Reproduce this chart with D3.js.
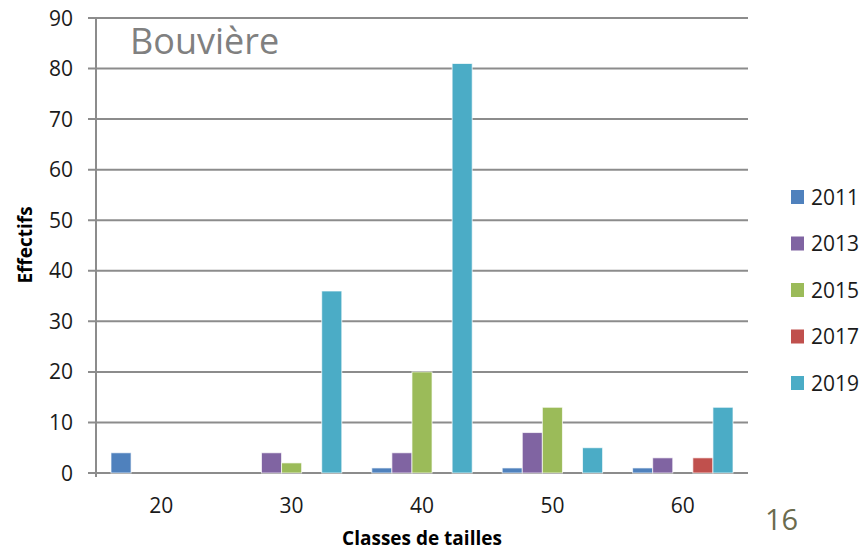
<!DOCTYPE html>
<html>
<head>
<meta charset="utf-8">
<script src="https://cdn.jsdelivr.net/npm/d3@7"></script>
<style>
  body { margin: 0; background: #fff; }
  text { font-family: "Open Sans", "Liberation Sans", sans-serif; }
</style>
</head>
<body>
<svg width="865" height="552"></svg>
<script>
// chart data
const categories = ['20', '30', '40', '50', '60'];
const years = ['2011', '2013', '2015', '2017', '2019'];
const colors = ['#4F81BD', '#8064A2', '#9BBB59', '#C0504D', '#4BACC6'];
const v2011 = [4, 0, 1, 1, 1];
const v2013 = [0, 4, 4, 8, 3];
const v2015 = [0, 2, 20, 13, 0];
const v2017 = [0, 0, 0, 0, 3];
const v2019 = [0, 36, 81, 5, 13];
const yTicks = [0, 10, 20, 30, 40, 50, 60, 70, 80, 90];

const series = [v2011, v2013, v2015, v2017, v2019];

const svg = d3.select('svg');
const plotLeft = 96, plotRight = 748, plotTop = 18, plotBottom = 473;

const x0 = d3.scaleBand().domain(categories).range([plotLeft, plotRight]).paddingInner(0.23).paddingOuter(0.115);
const x1 = d3.scaleBand().domain(years).range([0, x0.bandwidth()]);
const y = d3.scaleLinear().domain([0, 90]).range([plotBottom, plotTop]);

// gridlines
svg.append('g')
  .selectAll('line')
  .data(yTicks)
  .enter()
  .append('line')
  .attr('x1', plotLeft - 8)
  .attr('x2', plotRight)
  .attr('y1', (d) => y(d))
  .attr('y2', (d) => y(d))
  .attr('stroke', '#8c8c8c')
  .attr('stroke-width', 2);

// y tick labels
svg.append('g')
  .selectAll('text')
  .data(yTicks)
  .enter()
  .append('text')
  .attr('x', 73)
  .attr('y', (d) => y(d))
  .attr('dy', '0.36em')
  .attr('text-anchor', 'end')
  .attr('font-size', 21)
  .attr('fill', '#1a1a1a')
  .text((d) => d);

// bars
const groups = svg.append('g')
  .selectAll('g')
  .data(categories)
  .enter()
  .append('g')
  .attr('transform', (d) => `translate(${x0(d)},0)`);

groups
  .selectAll('rect')
  .data((d, ci) => years.map((yr, si) => ({ yr, si, v: series[si][ci] })))
  .enter()
  .filter((d) => d.v > 0)
  .append('rect')
  .attr('x', (d) => x1(d.yr))
  .attr('width', x1.bandwidth())
  .attr('y', (d) => y(d.v))
  .attr('height', (d) => y(0) - y(d.v))
  .attr('fill', (d) => colors[d.si])
  .attr('stroke', 'rgba(255,255,255,0.7)')
  .attr('stroke-width', 1);

// axis line
svg.append('line')
  .attr('x1', plotLeft).attr('x2', plotLeft)
  .attr('y1', plotTop).attr('y2', plotBottom + 4)
  .attr('stroke', '#8c8c8c').attr('stroke-width', 2);

// x tick labels
svg.append('g')
  .selectAll('text')
  .data(categories)
  .enter()
  .append('text')
  .attr('x', (d) => x0(d) + x0.bandwidth() / 2)
  .attr('y', 513)
  .attr('text-anchor', 'middle')
  .attr('font-size', 21)
  .attr('fill', '#1a1a1a')
  .text((d) => d);

// axis titles
svg.append('text')
  .attr('x', 422)
  .attr('y', 545)
  .attr('text-anchor', 'middle')
  .attr('font-size', 19)
  .attr('font-weight', 'bold')
  .text('Classes de tailles');

svg.append('text')
  .attr('transform', `translate(32,245) rotate(-90)`)
  .attr('text-anchor', 'middle')
  .attr('font-size', 19)
  .attr('font-weight', 'bold')
  .text('Effectifs');

// chart title inside plot
svg.append('text')
  .attr('x', 130)
  .attr('y', 54)
  .attr('font-size', 36)
  .attr('fill', '#808080')
  .text('Bouvière');

// page number
svg.append('text')
  .attr('x', 765)
  .attr('y', 530)
  .attr('font-size', 29)
  .attr('fill', '#6b6b4e')
  .text('16');

// legend
const legend = svg.append('g')
  .selectAll('g')
  .data(years)
  .enter()
  .append('g')
  .attr('transform', (d, i) => `translate(791,${197 + i * 46.5})`);

legend.append('rect')
  .attr('x', 0)
  .attr('y', -7)
  .attr('width', 13)
  .attr('height', 14)
  .attr('fill', (d, i) => colors[i]);

legend.append('text')
  .attr('x', 20)
  .attr('dy', '0.36em')
  .attr('font-size', 21)
  .attr('fill', '#1a1a1a')
  .text((d) => d);
</script>
</body>
</html>
